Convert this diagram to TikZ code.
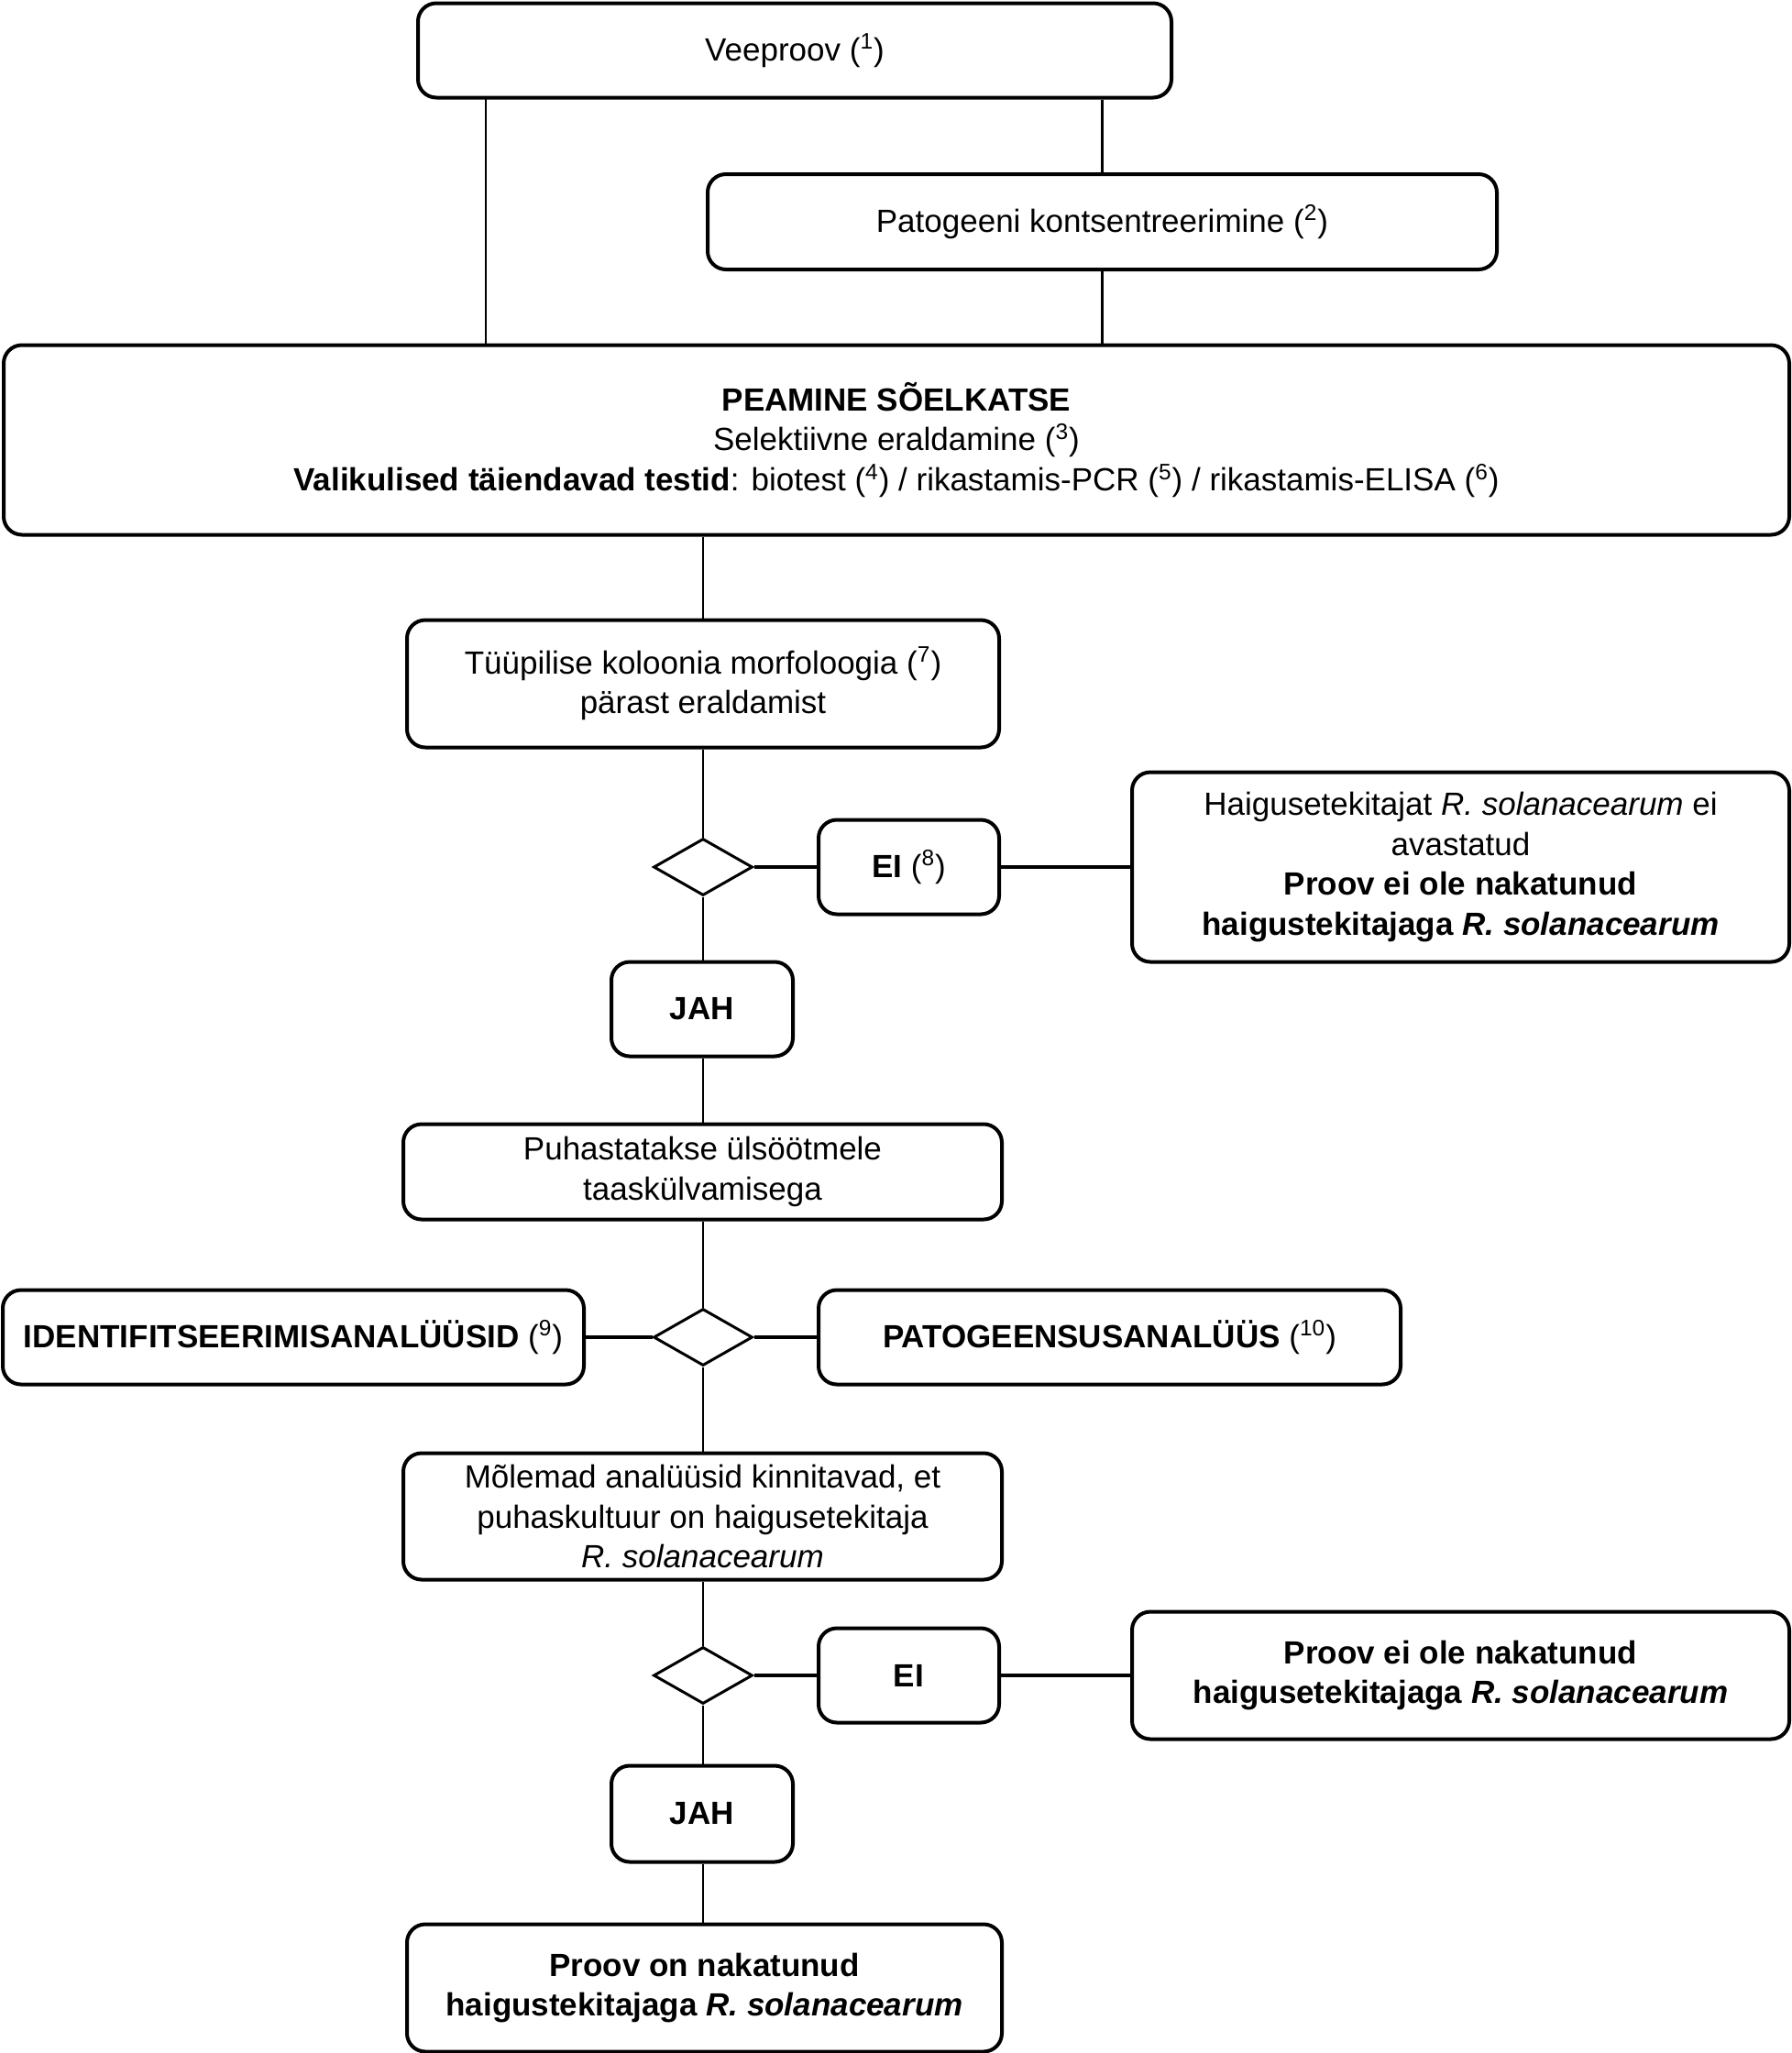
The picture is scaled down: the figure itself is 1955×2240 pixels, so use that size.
\documentclass[tikz,border=0pt]{standalone}
\usepackage{fontspec}
\setmainfont{Liberation Sans}
\usetikzlibrary{shapes.geometric}

\begin{document}
\begin{tikzpicture}[x=0.5pt,y=-0.5pt,
  box/.style={draw,line width=2pt,rounded corners=10pt,align=center,inner sep=0pt,
    font=\fontsize{17.5}{21.8}\selectfont},
  choice/.style={draw,diamond,line width=1.5pt,minimum width=54pt,minimum height=31pt,inner sep=0pt},
  stem/.style={line width=1.2pt},
  branch/.style={line width=2pt}]
\useasboundingbox (0,0) rectangle (1955,2240);

% upper part
\node[box,minimum width=411pt,minimum height=51.5pt] (veeproov) at (867,55) {Veeproov (\textsuperscript{1})};
\node[box,minimum width=430.5pt,minimum height=52pt] (konts) at (1202.5,242) {Patogeeni kontsentreerimine (\textsuperscript{2})};
\node[box,minimum width=974pt,minimum height=103.5pt] (peamine) at (978,480)
  {\textbf{PEAMINE SÕELKATSE}\\Selektiivne eraldamine (\textsuperscript{3})\\
   \textbf{Valikulised täiendavad testid}: biotest (\textsuperscript{4}) / rikastamis-PCR (\textsuperscript{5}) / rikastamis-ELISA (\textsuperscript{6})};
\coordinate (vl) at (530,106);

% first decision
\node[box,minimum width=323pt,minimum height=69.5pt] (morf) at (767,746) {Tüüpilise koloonia morfoloogia (\textsuperscript{7})\\pärast eraldamist};
\node[choice] (d1) at (767,946) {};
\node[box,minimum width=98.5pt,minimum height=51.5pt] (ei1) at (991.5,946) {\textbf{EI} (\textsuperscript{8})};
\node[box,minimum width=358.5pt,minimum height=103.5pt] (eiavast) at (1593.5,946)
  {Haigusetekitajat \textit{R. solanacearum} ei\\avastatud\\
   \textbf{Proov ei ole nakatunud}\\\textbf{haigustekitajaga \textit{R. solanacearum}}};
\node[box,minimum width=99pt,minimum height=51.5pt] (jah1) at (766,1101) {\textbf{JAH}};

% second decision
\node[box,minimum width=326.5pt,minimum height=52pt] (puhast) at (766.5,1278.5) {Puhastatakse ülsöötmele\\taaskülvamisega};
\node[choice] (d2) at (767,1459) {};
\node[box,minimum width=317pt,minimum height=51.5pt] (ident) at (320,1459) {\textbf{IDENTIFITSEERIMISANALÜÜSID} (\textsuperscript{9})};
\node[box,minimum width=317.5pt,minimum height=51.5pt] (patog) at (1210.5,1459) {\textbf{PATOGEENSUSANALÜÜS} (\textsuperscript{10})};
\node[box,minimum width=326.5pt,minimum height=69pt] (molemad) at (766.5,1654.5)
  {Mõlemad analüüsid kinnitavad, et\\puhaskultuur on haigusetekitaja\\\textit{R. solanacearum}};

% third decision
\node[choice] (d3) at (767,1828) {};
\node[box,minimum width=98.5pt,minimum height=51.5pt] (ei2) at (991.5,1828) {\textbf{EI}};
\node[box,minimum width=358.5pt,minimum height=69.5pt] (eiole) at (1593.5,1828)
  {\textbf{Proov ei ole nakatunud}\\\textbf{haigusetekitajaga \textit{R. solanacearum}}};
\node[box,minimum width=99pt,minimum height=52.5pt] (jah2) at (766,1979) {\textbf{JAH}};
\node[box,minimum width=324.5pt,minimum height=69.5pt] (onnak) at (768.5,2169)
  {\textbf{Proov on nakatunud}\\\textbf{haigustekitajaga \textit{R. solanacearum}}};

% connectors
\draw[stem] (vl) -- (vl |- peamine.north);
\draw[stem] (veeproov.south -| konts.north) -- (konts.north);
\draw[stem] (konts.south) -- (konts.south |- peamine.north);
\draw[stem] (peamine.south -| morf.north) -- (morf.north);
\draw[stem] (morf.south) -- (d1.north);
\draw[stem] (d1.south) -- (jah1.north -| d1.south);
\draw[stem] (jah1.south -| d1.south) -- (puhast.north -| d1.south);
\draw[stem] (puhast.south -| d2.north) -- (d2.north);
\draw[stem] (d2.south) -- (molemad.north -| d2.south);
\draw[stem] (molemad.south -| d3.north) -- (d3.north);
\draw[stem] (d3.south) -- (jah2.north -| d3.south);
\draw[stem] (jah2.south -| d3.south) -- (onnak.north -| d3.south);
\draw[branch] (d1.east) -- (ei1.west);
\draw[branch] (ei1.east) -- (eiavast.west);
\draw[branch] (ident.east) -- (d2.west);
\draw[branch] (d2.east) -- (patog.west);
\draw[branch] (d3.east) -- (ei2.west);
\draw[branch] (ei2.east) -- (eiole.west);
\end{tikzpicture}
\end{document}
